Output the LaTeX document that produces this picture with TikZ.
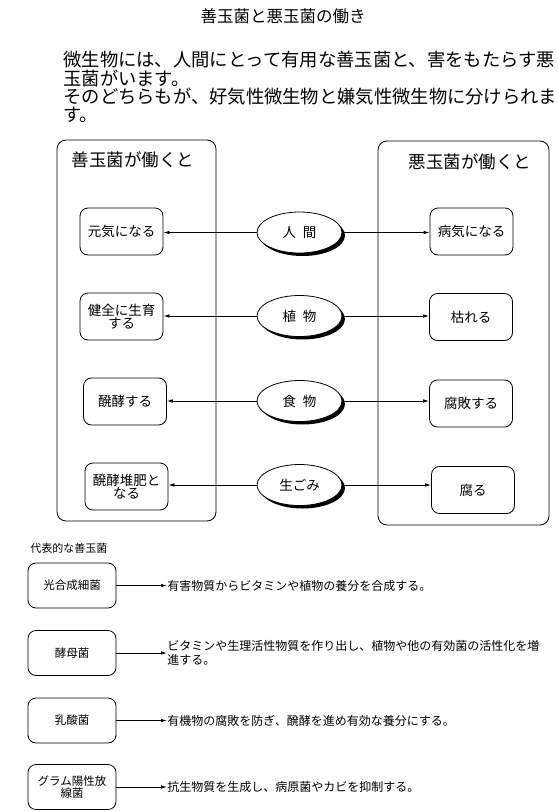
\documentclass[tikz,border=0pt]{standalone}
\usepackage{fontspec}
\setmainfont{Noto Sans CJK JP}
\usetikzlibrary{shapes.geometric,shadows,arrows.meta}
\newcommand{\fsz}[1]{\fontsize{#1}{#1}\selectfont}
\begin{document}
\begin{tikzpicture}[x=1pt,y=-1pt,line width=0.8pt,
  bigbox/.style={draw,rounded corners=9pt,minimum width=#1,inner sep=0pt},
  smallbox/.style={draw,rounded corners=8pt,minimum width=83pt,minimum height=47pt,align=center,inner sep=1pt,font=\fsz{13.5}},
  botbox/.style={draw,rounded corners=8pt,minimum width=88pt,minimum height=45pt,align=center,inner sep=1pt,font=\fsz{11.5}},
  oval/.style={draw,fill=white,ellipse,minimum width=85pt,minimum height=41pt,inner sep=0pt,font=\fsz{13.5},
    drop shadow={fill=black,opacity=1,shadow xshift=3pt,shadow yshift=-3pt}},
  arr/.style={-{Latex[length=6pt,width=3.5pt]}},
  desc/.style={anchor=west,align=left,inner sep=0pt,font=\fsz{12}}]
\useasboundingbox (0,0) rectangle (557,811);
% title and paragraph
\node[font=\fsz{16.5}] (title) at (283,16) {善玉菌と悪玉菌の働き};
\node[anchor=north west,align=left,inner sep=0pt,font=\fontsize{18.3}{18.3}\selectfont] (para) at (63,51)
  {微生物には、人間にとって有用な善玉菌と、害をもたらす悪\\玉菌がいます。\\そのどちらもが、好気性微生物と嫌気性微生物に分けられま\\す。};
% big boxes
\node[bigbox=159pt,minimum height=381pt] (LB) at (136.5,330.5) {};
\node[bigbox=171pt,minimum height=384pt] (RB) at (463.5,333) {};
\node[font=\fsz{17.5}] (LH) at (133,160) {善玉菌が働くと};
\node[font=\fsz{17.5}] (RH) at (470,162) {悪玉菌が働くと};
% left boxes
\node[smallbox] (L1) at (121.5,231.5) {元気になる};
\node[smallbox] (L2) at (121.5,316.5) {健全に生育\\する};
\node[smallbox] (L3) at (125,401.5) {醗酵する};
\node[smallbox] (L4) at (126.5,486.5) {醗酵堆肥と\\なる};
% right boxes
\node[smallbox] (R1) at (471.5,231.5) {病気になる};
\node[smallbox] (R2) at (471,317) {枯れる};
\node[smallbox] (R3) at (471,403.5) {腐敗する};
\node[smallbox] (R4) at (473,490) {腐る};
% ovals
\node[oval] (E1) at (299.5,232.5) {人\enspace 間};
\node[oval] (E2) at (299.5,316) {植\enspace 物};
\node[oval] (E3) at (299.5,401) {食\enspace 物};
\node[oval] (E4) at (299.5,485) {生ごみ};
\foreach \i in {1,2,3,4}{
  \draw[arr] (E\i.west) -- (E\i.west -| L\i.east);
  \draw[arr] (E\i.east) -- (E\i.east -| R\i.west);
}
% bottom section
\node[anchor=west,inner sep=0pt,font=\fsz{11}] (rep) at (30,548) {代表的な善玉菌};
\node[botbox] (B1) at (72,585.5) {光合成細菌};
\node[botbox] (B2) at (72,653) {酵母菌};
\node[botbox] (B3) at (72,720.5) {乳酸菌};
\node[botbox] (B4) at (72,787) {グラム陽性放\\線菌};
\node[desc] (D1) at (167,585.5) {有害物質からビタミンや植物の養分を合成する。};
\node[desc,font=\fontsize{12}{14}\selectfont] (D2) at (167,653) {ビタミンや生理活性物質を作り出し、植物や他の有効菌の活性化を増\\進する。};
\node[desc] (D3) at (167,720.5) {有機物の腐敗を防ぎ、醗酵を進め有効な養分にする。};
\node[desc] (D4) at (167,787) {抗生物質を生成し、病原菌やカビを抑制する。};
\foreach \i in {1,2,3,4}{
  \draw[arr] (B\i.east) -- (D\i.west);
}
\end{tikzpicture}
\end{document}
